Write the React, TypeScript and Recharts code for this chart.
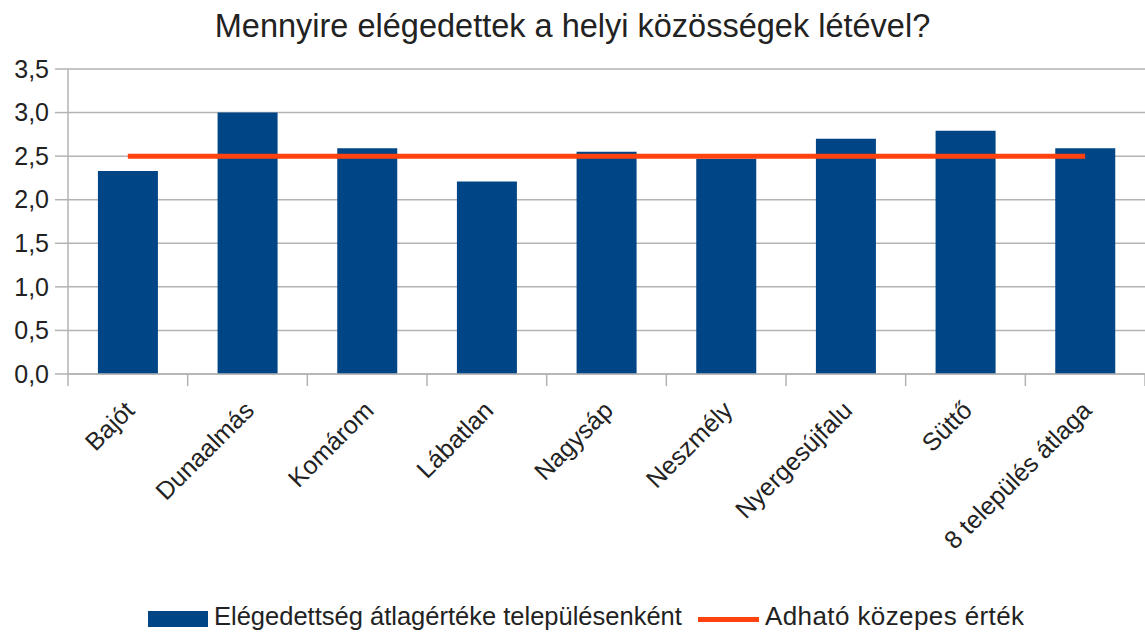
import React from "react";
import { ComposedChart, Bar, Line, XAxis, YAxis, CartesianGrid } from "recharts";

const categories = [
  "Bajót",
  "Dunaalmás",
  "Komárom",
  "Lábatlan",
  "Nagysáp",
  "Neszmély",
  "Nyergesújfalu",
  "Süttő",
  "8 település átlaga",
];
const satisfaction = [2.33, 3.0, 2.59, 2.21, 2.55, 2.47, 2.7, 2.79, 2.59];
const middleValue = [2.5, 2.5, 2.5, 2.5, 2.5, 2.5, 2.5, 2.5, 2.5];
const yTicks = [0, 0.5, 1, 1.5, 2, 2.5, 3, 3.5];
const boundaryTicks = [0, 1, 2, 3, 4, 5, 6, 7, 8, 9];

const TITLE = "Mennyire elégedettek a helyi közösségek létével?";
const BAR_NAME = "Elégedettség átlagértéke településenként";
const LINE_NAME = "Adható közepes érték";

const BLUE = "#004586";
const ORANGE = "#ff420e";
const GRID = "#b3b3b3";
const TEXT = "#222222";
const FONT = '"Liberation Sans", Arial, sans-serif';

const data = categories.map((name, i) => ({
  name,
  value: satisfaction[i],
  mid: middleValue[i],
  pos: i + 0.5,
}));

function YTick({ x, y, payload }: any) {
  return (
    <text
      x={x}
      y={y}
      dy="0.35em"
      textAnchor="end"
      fontSize={25}
      fill={TEXT}
      fontFamily={FONT}
    >
      {Number(payload.value).toFixed(1).replace(".", ",")}
    </text>
  );
}

function XTick({ x, y, payload }: any) {
  const ax = x + 8;
  const ay = y + 37;
  return (
    <text
      x={ax}
      y={ay}
      transform={`rotate(-45, ${ax}, ${ay})`}
      textAnchor="end"
      fontSize={25}
      fill={TEXT}
      fontFamily={FONT}
    >
      {payload.value}
    </text>
  );
}

// tick marks only, no labels on the boundary axis
function NoLabel() {
  return <g />;
}

export default function App() {
  return (
    <div
      style={{
        position: "absolute",
        left: 0,
        top: 0,
        width: 1145,
        height: 632,
        background: "#fff",
        fontFamily: FONT,
        color: TEXT,
      }}
    >
      <div
        style={{
          position: "absolute",
          top: 10,
          left: 0,
          width: 1145,
          textAlign: "center",
          fontSize: 32.5,
          lineHeight: "32px",
          whiteSpace: "nowrap",
        }}
      >
        {TITLE}
      </div>

      <ComposedChart
        width={1145}
        height={632}
        data={data}
        margin={{ top: 69, right: 0, bottom: 57, left: 0 }}
        barCategoryGap="25%"
      >
        <CartesianGrid
          xAxisId="cat"
          horizontal={true}
          vertical={false}
          stroke={GRID}
          strokeWidth={1.5}
        />
        <XAxis
          xAxisId="bounds"
          type="number"
          dataKey="pos"
          domain={[0, 9]}
          allowDataOverflow={true}
          ticks={boundaryTicks}
          tick={<NoLabel />}
          tickSize={12}
          height={1}
          axisLine={{ stroke: GRID, strokeWidth: 1.5 }}
          tickLine={{ stroke: GRID, strokeWidth: 1.5 }}
        />
        <XAxis
          xAxisId="cat"
          type="category"
          dataKey="name"
          interval={0}
          height={200}
          tickSize={0}
          tickMargin={0}
          axisLine={false}
          tickLine={false}
          tick={<XTick />}
        />
        <YAxis
          width={68}
          domain={[0, 3.5]}
          ticks={yTicks}
          tickSize={13}
          tickMargin={6}
          axisLine={{ stroke: GRID, strokeWidth: 1.5 }}
          tickLine={{ stroke: GRID, strokeWidth: 1.5 }}
          tick={<YTick />}
        />
        <Bar
          xAxisId="cat"
          dataKey="value"
          name={BAR_NAME}
          fill={BLUE}
          isAnimationActive={false}
        />
        <Line
          xAxisId="cat"
          type="linear"
          dataKey="mid"
          name={LINE_NAME}
          stroke={ORANGE}
          strokeWidth={5}
          dot={false}
          activeDot={false}
          isAnimationActive={false}
        />
      </ComposedChart>

      {/* legend */}
      <div
        style={{
          position: "absolute",
          left: 148,
          top: 611,
          width: 60,
          height: 16,
          background: BLUE,
        }}
      />
      <div
        style={{
          position: "absolute",
          left: 214,
          top: 604,
          fontSize: 25.5,
          lineHeight: "25px",
          whiteSpace: "nowrap",
        }}
      >
        {BAR_NAME}
      </div>
      <div
        style={{
          position: "absolute",
          left: 698,
          top: 617,
          width: 61,
          height: 5,
          background: ORANGE,
        }}
      />
      <div
        style={{
          position: "absolute",
          left: 765,
          top: 604,
          fontSize: 26,
          lineHeight: "25px",
          letterSpacing: 0.4,
          whiteSpace: "nowrap",
        }}
      >
        {LINE_NAME}
      </div>
    </div>
  );
}
